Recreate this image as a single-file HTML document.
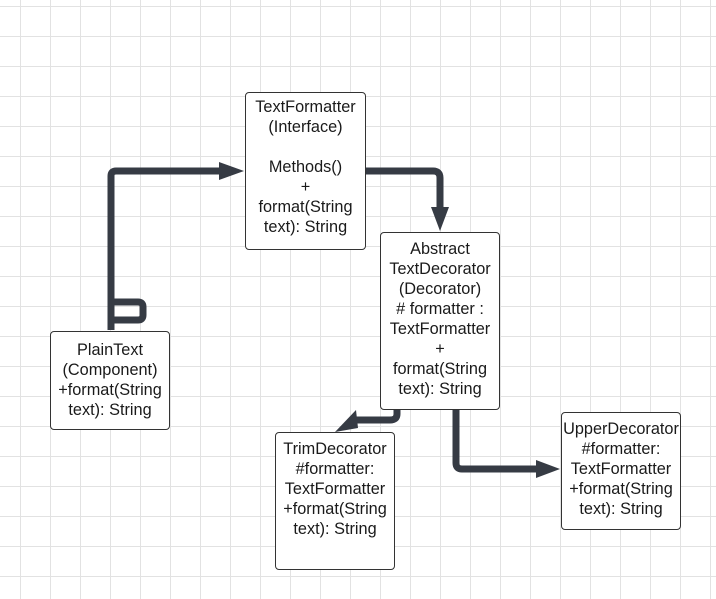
<!DOCTYPE html><html><head><style>
body{margin:0;width:716px;height:599px;overflow:hidden;background:#fff;
background-image:linear-gradient(#e2e2e2 1px,transparent 1px),linear-gradient(90deg,#e2e2e2 1px,transparent 1px);
background-size:30px 30px;background-position:20px 6px;font-family:"Liberation Sans",sans-serif;position:relative}
.b{position:absolute;background:#fff;border:1.3px solid #333;border-radius:4px;box-sizing:border-box;text-align:center;font-size:16.3px;line-height:20px;color:#1a1a1a;padding-top:4px;white-space:nowrap}
svg{position:absolute;left:0;top:0}
</style></head><body>
<svg width="716" height="599">
<g fill="none" stroke="#363b44" stroke-width="7" stroke-linejoin="round">
<path d="M111,330 V176 Q111,171 116,171 H220"/>
<path d="M111,302 H138 Q143,302 143,307 V315 Q143,320 138,320 H111"/>
<path d="M366,171 H433 Q440,171 440,178 V210"/>
<path d="M397,410 V414 Q397,420 390,420 H352"/>
<path d="M456,410 V463 Q456,469 462,469 H538"/>
</g>
<g fill="#363b44">
<polygon points="244,171 219,162 219,180"/>
<polygon points="440,231 431,207 449,207"/>
<polygon points="335,432 356,410 358,428"/>
<polygon points="560,469 536,460 536,478"/>
</g>
</svg>
<div class="b" style="left:245px;top:92px;width:121px;height:158px">TextFormatter<br>(Interface)<br><br>Methods()<br>+<br>format(String<br>text): String</div>
<div class="b" style="left:380px;top:232px;width:120px;height:178px;padding-top:6px">Abstract<br>TextDecorator<br>(Decorator)<br># formatter :<br>TextFormatter<br>+<br>format(String<br>text): String</div>
<div class="b" style="left:50px;top:331px;width:120px;height:99px;padding-top:8px">PlainText<br>(Component)<br>+format(String<br>text): String</div>
<div class="b" style="left:275px;top:432px;width:120px;height:138px;padding-top:6px">TrimDecorator<br>#formatter:<br>TextFormatter<br>+format(String<br>text): String</div>
<div class="b" style="left:561px;top:412px;width:120px;height:118px;padding-top:6px">UpperDecorator<br>#formatter:<br>TextFormatter<br>+format(String<br>text): String</div>
</body></html>
